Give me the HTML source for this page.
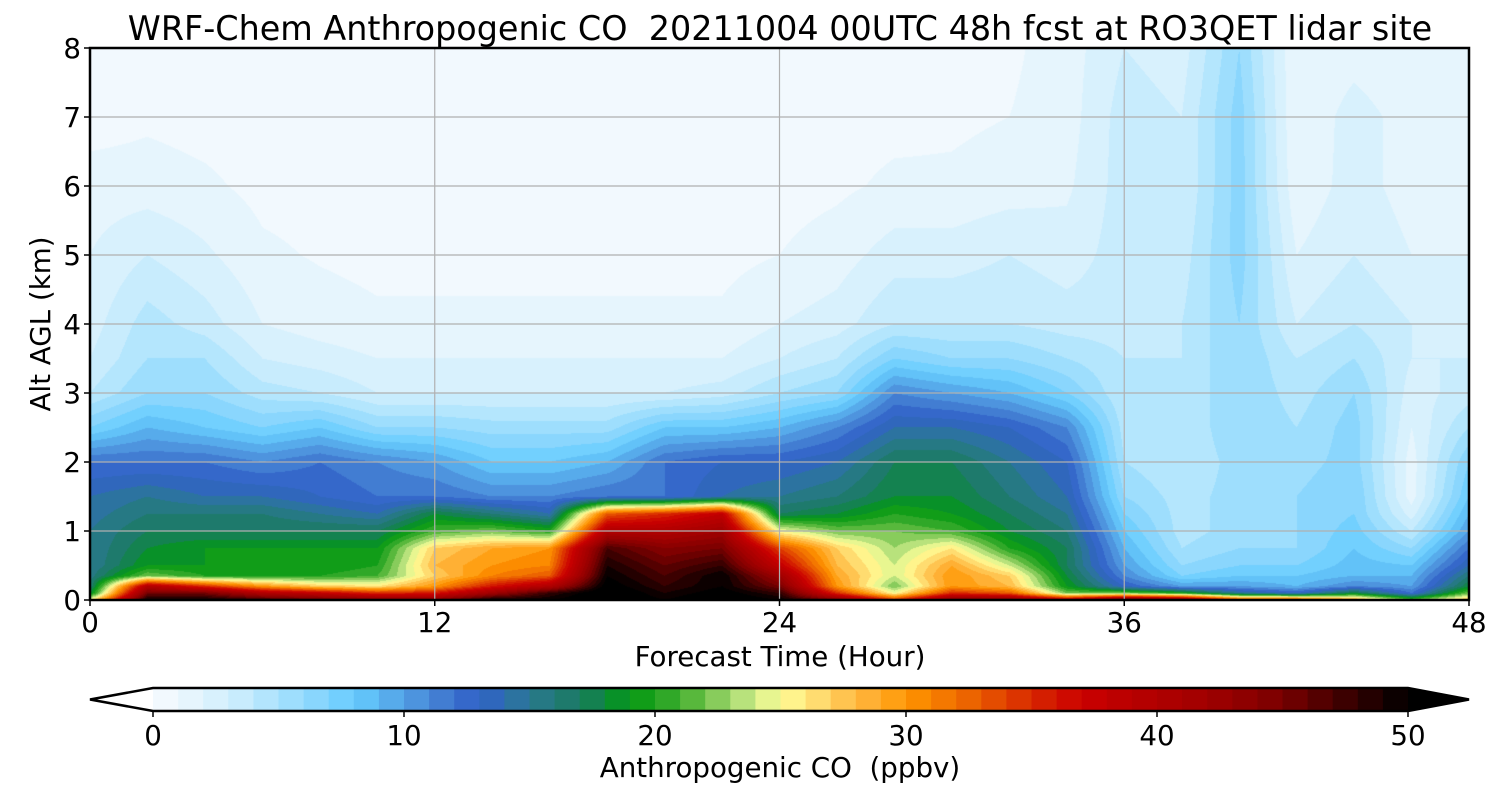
<!DOCTYPE html>
<html><head><meta charset="utf-8">
<style>
html,body{margin:0;padding:0;background:#fff;}
body{width:1500px;height:800px;position:relative;overflow:hidden;font-family:"DejaVu Sans","Liberation Sans",sans-serif;}
#plot{position:absolute;left:90px;top:48px;}
svg{position:absolute;left:0;top:0;}
text{font-family:"DejaVu Sans","Liberation Sans",sans-serif;fill:#000;}
</style></head>
<body>
<canvas id="plot" width="1379" height="552"></canvas>
<svg id="svg" width="1500" height="800"></svg>
<script>
// ---- data ----
const hours = [0,2,4,6,8,10,12,14,16,18,20,22,24,26,28,30,32,34,36,38,40,42,44,46,48];
const alts  = [0,0.1,0.2,0.35,0.5,0.75,1.0,1.25,1.5,2.0,2.5,3.0,3.5,4.0,5.0,6.0,7.0,8.0];
// values per hour column (ppbv), listed bottom->top matching alts
const h00=[25,18,16,15.5,15,15,15,14.5,14,12,7,4,3,2.5,2,1.5,0.5,0.3];
const h02=[50,45,40,22,19,18,17,16,15,12,9,6,5,4.5,3,1.5,0.8,0.5];
const h04=[50,45,35,20,19,19,17,16,14,12,8,6,5,3.5,2.2,1.2,0.6,0.5];
const h06=[48,40,30,20,19,19,17,16,14,11,7,4.5,3,2,1.2,0.7,0.5,0.5];
const h08=[46,38,27,20,19,19,17,15,13,12,8,4,2.5,1.5,0.9,0.6,0.5,0.5];
const h10=[45,35,26,21,20,19,17,14,12,11,6,3,2,1.2,0.7,0.5,0.5,0.5];
const h12=[44,36,30,27,28,27,21,18,12,10,6,3,2,1.2,0.7,0.5,0.5,0.5];
const h14=[50,42,36,31,30,29,22,16,11,8,5.5,3,2,1.2,0.7,0.5,0.5,0.5];
const h16=[50,48,40,33,31,30,20,14,11,8,5.5,3,2,1.2,0.7,0.5,0.5,0.5];
const h18=[52,52,51,50,49,47,40,33,12,9,5.5,3,2,1.2,0.7,0.5,0.5,0.5];
const h20=[50,49,48,47,46,44,40,35,12,12,8,3,2,1.2,0.7,0.5,0.5,0.5];
const h22=[52,51,50,50,48,45,42,38,14,13,8,3.5,2,1.2,0.7,0.5,0.5,0.5];
const h24=[50,48,45,42,38,34,25,17,15,13,9,5,3,2,1,0.6,0.5,0.5];
const h26=[45,35,30,29,28,27,22,18,16,14,11,6,4,2.5,1.5,0.8,0.6,0.5];
const h28=[35,25,22,24,24,23,22,20,18,17,14,11,7,4,2.5,1.2,0.7,0.5];
const h30=[45,35,30,30,29,26,21,19,18,17,14,10,6,4,2.5,1.2,0.8,0.6];
const h32=[45,33,28,27,24,20,18,17,16,15,13,9,6,4,3,1.5,1,0.8];
const h34=[40,22,19,18,17,17,16,15,14,13,11,7,5,3.5,2.5,1.8,1.5,1.5];
const h36=[48,22,13,11,10,9,8,7,6,5,4.5,4,4,3.5,3.5,3.5,3.5,3];
const h38=[45,20,10,7,6,5,4.5,4.5,4.5,4,4,4,4,4,3.5,3,3,2.5];
const h40=[35,15,10,8,7,6,5.5,5.5,5.5,5.5,6,6,6,6,6.5,6.5,6.5,6];
const h42=[35,13,9,8,7,6,6,6,6,5.5,5,4.5,4,3,2,1.2,1,1];
const h44=[30,18,11,9,8.5,8,7.5,7,7,6.5,6.5,6,5,4,3,2.5,2.5,1.5];
const h46=[22,12,10,9,8,6,4,2.5,1.5,1.5,2,2.5,3,3,2,1.5,1.5,1];
const h48=[28,22,18,16,14,12,10,9,8,7,5,3.5,3,2.5,2,2,1.5,1];
const grid=[h00,h02,h04,h06,h08,h10,h12,h14,h16,h18,h20,h22,h24,h26,h28,h30,h32,h34,h36,h38,h40,h42,h44,h46,h48];
const xTicks=[0,12,24,36,48];
const yTicks=[0,1,2,3,4,5,6,7,8];
const cbTicks=[0,10,20,30,40,50];
// colormap anchors
const cmV=[0,1,2,3,4,5,6,7,8,9,10,11,12,13,14,15,16,17,18,19,20,21,22,23,24,25,26,27,28,29,30,31,32,33,34,35,36,37,38,40,42,44,45,46,47,48,49,50];
const cmC=['#f7fbff','#eef7fd','#dff3fd','#d2effd','#bfe9fd','#a8e2fd','#94dafd','#7fd3fd','#66ccff','#5db8f2','#519ee4','#4a8ad8','#3a70cd','#3060c8','#2f6eb0','#2a7890','#227a78','#1a7b60','#0f8840','#029a10','#20a020','#40b030','#70c048','#a0d870','#d0ec88','#ffff99','#ffe880','#ffd060','#ffb840','#ffa828','#ff9900','#f88000','#f07000','#e85800','#e04000','#d82800','#d01400','#cc0000','#c00000','#b00000','#a00000','#880000','#780000','#600000','#480000','#300000','#180000','#000000'];
function hex(c){return [parseInt(c.substr(1,2),16),parseInt(c.substr(3,2),16),parseInt(c.substr(5,2),16)];}
const cmRGB=cmC.map(hex);
function colorAt(v){
  if(v<=cmV[0])return cmRGB[0];
  for(let i=1;i<cmV.length;i++){
    if(v<=cmV[i]){const f=(v-cmV[i-1])/(cmV[i]-cmV[i-1]);const a=cmRGB[i-1],b=cmRGB[i];
      return [a[0]+(b[0]-a[0])*f,a[1]+(b[1]-a[1])*f,a[2]+(b[2]-a[2])*f];}
  }
  return cmRGB[cmRGB.length-1];
}
function levelColor(v){let l=Math.floor(v);if(l<0)l=-0.5;if(l>49)return [0,0,0];return colorAt(l+0.5);}
// axes
const PX=90,PY=48,PW=1379,PH=552;
const xS=h=>PX+h/48*PW;
const yS=z=>PY+PH-z/8*PH;
// field
function findIdx(arr,v){for(let i=0;i<arr.length-1;i++){if(v<=arr[i+1])return i;}return arr.length-2;}
const cv=document.getElementById('plot');const ctx=cv.getContext('2d');
const img=ctx.createImageData(PW,PH);
for(let py=0;py<PH;py++){
  const z=(PH-py-0.5)/PH*8;const j=findIdx(alts,z);const fz=(z-alts[j])/(alts[j+1]-alts[j]);
  for(let px=0;px<PW;px++){
    const t=(px+0.5)/PW*48;const i=findIdx(hours,t);const ft=(t-hours[i])/(hours[i+1]-hours[i]);
    const v=(grid[i][j]*(1-ft)+grid[i+1][j]*ft)*(1-fz)+(grid[i][j+1]*(1-ft)+grid[i+1][j+1]*ft)*fz;
    const c=levelColor(v);const k=(py*PW+px)*4;
    img.data[k]=c[0];img.data[k+1]=c[1];img.data[k+2]=c[2];img.data[k+3]=255;
  }
}
ctx.putImageData(img,0,0);
// svg
const svg=document.getElementById('svg');const NS='http://www.w3.org/2000/svg';
function mk(tag,attrs,parent){const e=document.createElementNS(NS,tag);for(const k in attrs)e.setAttribute(k,attrs[k]);(parent||svg).appendChild(e);return e;}
const FS=27.7;
yTicks.forEach(z=>{
  if(z>0&&z<8){const g=mk('line',{x1:PX,x2:PX+PW,y1:yS(z),y2:yS(z),stroke:'#b0b0b0','stroke-width':1.2});
  
  }
  const tk=mk('line',{x1:PX-6,x2:PX,y1:yS(z),y2:yS(z),stroke:'#000','stroke-width':1.5});
  
  
  const t=mk('text',{x:PX-9,y:yS(z)+10,'text-anchor':'end','font-size':FS});t.textContent=z;
  
  
});
xTicks.forEach(h=>{
  if(h>0&&h<48){const g=mk('line',{x1:xS(h),x2:xS(h),y1:PY,y2:PY+PH,stroke:'#b0b0b0','stroke-width':1.2});
  
  }
  const tk=mk('line',{x1:xS(h),x2:xS(h),y1:PY+PH,y2:PY+PH+6,stroke:'#000','stroke-width':1.5});
  
  
  const t=mk('text',{x:xS(h),y:632,'text-anchor':'middle','font-size':FS});t.textContent=h;
  
  
});
const fr=mk('rect',{x:PX,y:PY,width:PW,height:PH,fill:'none',stroke:'#000','stroke-width':2.5});


const ti=mk('text',{x:780,y:40,'text-anchor':'middle','font-size':33.4});ti.textContent='WRF-Chem Anthropogenic CO  20211004 00UTC 48h fcst at RO3QET lidar site';


ti.style.whiteSpace='pre';
const xl=mk('text',{x:780,y:666,'text-anchor':'middle','font-size':FS});xl.textContent='Forecast Time (Hour)';


const yl=mk('text',{x:0,y:0,'text-anchor':'middle','font-size':FS,transform:'translate(50,324) rotate(-90)'});yl.textContent='Alt AGL (km)';


// colorbar
const CB0=153,CB1=1408,CBY=688,CBH=23;
const cS=v=>CB0+v/50*(CB1-CB0);
for(let l=0;l<50;l++){
  const c=levelColor(l+0.5);
  const r=mk('rect',{x:cS(l),y:CBY,width:cS(l+1)-cS(l)+0.6,height:CBH,fill:`rgb(${c[0]|0},${c[1]|0},${c[2]|0})`});
  
  
}
const lt=mk('polygon',{points:`${CB0},${CBY} 90,${CBY+CBH/2} ${CB0},${CBY+CBH}`,fill:'#fff'});


const rt=mk('polygon',{points:`${CB1},${CBY} 1469,${CBY+CBH/2} ${CB1},${CBY+CBH}`,fill:'#000'});


const ol=mk('polygon',{points:`${CB0},${CBY} ${CB1},${CBY} 1469,${CBY+CBH/2} ${CB1},${CBY+CBH} ${CB0},${CBY+CBH} 90,${CBY+CBH/2}`,fill:'none',stroke:'#000','stroke-width':2.5});


cbTicks.forEach(v=>{
  const tk=mk('line',{x1:cS(v),x2:cS(v),y1:CBY+CBH,y2:CBY+CBH+6,stroke:'#000','stroke-width':1.5});
  
  
  const t=mk('text',{x:cS(v),y:745,'text-anchor':'middle','font-size':FS});t.textContent=v;
  
  
});
const cl=mk('text',{x:780,y:777,'text-anchor':'middle','font-size':FS});cl.textContent='Anthropogenic CO  (ppbv)';


cl.style.whiteSpace='pre';
</script>
</body></html>
